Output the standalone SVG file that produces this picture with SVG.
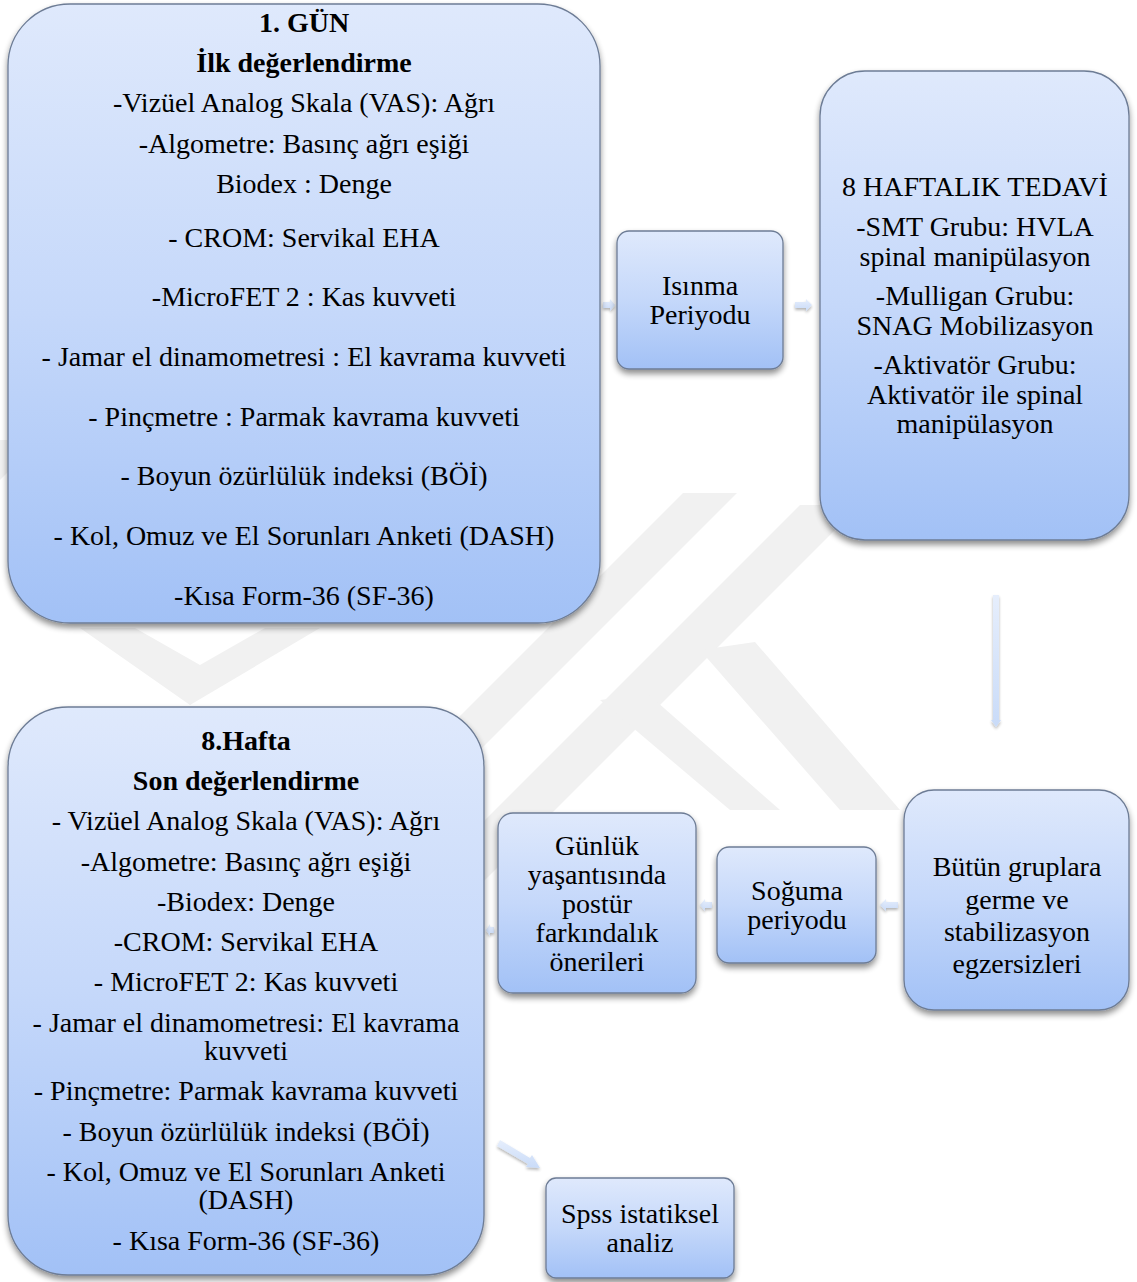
<svg xmlns="http://www.w3.org/2000/svg" width="1137" height="1282" viewBox="0 0 1137 1282">
<defs>
<linearGradient id="gBox" x1="0" y1="0" x2="0" y2="1">
<stop offset="0" stop-color="#dfe9fc"/>
<stop offset="0.5" stop-color="#c5d8fa"/>
<stop offset="1" stop-color="#a2c1f6"/>
</linearGradient>
<linearGradient id="gArr" x1="0" y1="0" x2="0" y2="1">
<stop offset="0" stop-color="#e6eefc"/>
<stop offset="1" stop-color="#c9dbf8"/>
</linearGradient>
<filter id="sh" x="-10%" y="-10%" width="120%" height="125%">
<feGaussianBlur in="SourceAlpha" stdDeviation="3"/>
<feOffset dx="0" dy="4" result="b"/>
<feComponentTransfer><feFuncA type="linear" slope="0.45"/></feComponentTransfer>
<feMerge><feMergeNode/><feMergeNode in="SourceGraphic"/></feMerge>
</filter>
<filter id="sha" x="-50%" y="-50%" width="200%" height="200%">
<feGaussianBlur in="SourceAlpha" stdDeviation="1.5"/>
<feOffset dx="0" dy="2" result="b"/>
<feComponentTransfer><feFuncA type="linear" slope="0.3"/></feComponentTransfer>
<feMerge><feMergeNode/><feMergeNode in="SourceGraphic"/></feMerge>
</filter>
</defs>
<style>
.box{fill:url(#gBox);stroke:#6d7c95;stroke-width:1.3;filter:url(#sh)}
.t{font-family:"Liberation Serif","Times New Roman",serif;font-size:28px;fill:#000;text-anchor:middle}
.b{font-weight:bold}
.arr{fill:url(#gArr);filter:url(#sha)}
.wm{fill:#f1f1f1}
</style>
<rect width="1137" height="1282" fill="#fff"/>
<g id="watermark">
<polygon class="wm" points="683,493 737,493 330,900 276,900"/>
<polygon class="wm" points="800,505 860,505 470,895 410,895"/>
<polygon class="wm" points="700,650 755,642 900,810 840,810"/>
<polygon class="wm" points="600,700 648,694 780,810 730,810"/>
<polygon class="wm" points="80,628 135,628 200,665 265,628 320,628 190,705"/>
<polygon class="wm" points="0,440 40,440 0,480"/>
</g>
<g id="connectors">
<polygon class="arr" points="603,302 610,302 610,299 615,305 610,311 610,308 603,308"/>
<polygon class="arr" points="795,302 806,302 806,299 812,305 806,311 806,308 795,308"/>
<polygon class="arr" points="993,595 999,595 999,720 1001,720 996,727 991,720 993,720"/>
<polygon class="arr" points="898,902 886,902 886,899 880,905 886,911 886,908 898,908"/>
<polygon class="arr" points="712,902 705,902 705,899 700,905 705,911 705,908 712,908"/>
<polygon class="arr" points="494,927 490,927 490,924 486,930 490,936 490,933 494,933"/>
<polygon class="arr" points="500,1140 530,1158 532,1155 540,1168 526,1167 528,1164 497,1146"/>
</g>
<g id="n1">
<rect class="box" x="8" y="4" width="592" height="619" rx="62"/>
<text class="t b" x="304" y="32">1. GÜN</text>
<text class="t b" x="304" y="72">İlk değerlendirme</text>
<text class="t" x="304" y="112">-Vizüel Analog Skala (VAS): Ağrı</text>
<text class="t" x="304" y="153">-Algometre: Basınç ağrı eşiği</text>
<text class="t" x="304" y="193">Biodex : Denge</text>
<text class="t" x="304" y="247">- CROM: Servikal EHA</text>
<text class="t" x="304" y="306">-MicroFET 2 : Kas kuvveti</text>
<text class="t" x="304" y="366">- Jamar el dinamometresi : El kavrama kuvveti</text>
<text class="t" x="304" y="426">- Pinçmetre : Parmak kavrama kuvveti</text>
<text class="t" x="304" y="485">- Boyun özürlülük indeksi (BÖİ)</text>
<text class="t" x="304" y="545">- Kol, Omuz ve El Sorunları Anketi (DASH)</text>
<text class="t" x="304" y="605">-Kısa Form-36 (SF-36)</text>
</g>
<g id="n2">
<rect class="box" x="617" y="231" width="166" height="138" rx="12"/>
<text class="t" x="700" y="295">Isınma</text>
<text class="t" x="700" y="324">Periyodu</text>
</g>
<g id="n3">
<rect class="box" x="820" y="71" width="309" height="469" rx="45"/>
<text class="t" x="975" y="196">8 HAFTALIK TEDAVİ</text>
<text class="t" x="975" y="236">-SMT Grubu: HVLA</text>
<text class="t" x="975" y="266">spinal manipülasyon</text>
<text class="t" x="975" y="305">-Mulligan Grubu:</text>
<text class="t" x="975" y="335">SNAG Mobilizasyon</text>
<text class="t" x="975" y="374">-Aktivatör Grubu:</text>
<text class="t" x="975" y="404">Aktivatör  ile spinal</text>
<text class="t" x="975" y="433">manipülasyon</text>
</g>
<g id="n4">
<rect class="box" x="904" y="790" width="225" height="220" rx="30"/>
<text class="t" x="1017" y="876">Bütün gruplara</text>
<text class="t" x="1017" y="909">germe ve</text>
<text class="t" x="1017" y="941">stabilizasyon</text>
<text class="t" x="1017" y="973">egzersizleri</text>
</g>
<g id="n5">
<rect class="box" x="717" y="847" width="159" height="116" rx="12"/>
<text class="t" x="797" y="900">Soğuma</text>
<text class="t" x="797" y="929">periyodu</text>
</g>
<g id="n6">
<rect class="box" x="498" y="813" width="198" height="180" rx="15"/>
<text class="t" x="597" y="855">Günlük</text>
<text class="t" x="597" y="884">yaşantısında</text>
<text class="t" x="597" y="913">postür</text>
<text class="t" x="597" y="942">farkındalık</text>
<text class="t" x="597" y="971">önerileri</text>
</g>
<g id="n7">
<rect class="box" x="8" y="707" width="476" height="568" rx="60"/>
<text class="t b" x="246" y="750">8.Hafta</text>
<text class="t b" x="246" y="790">Son değerlendirme</text>
<text class="t" x="246" y="830">- Vizüel Analog Skala (VAS): Ağrı</text>
<text class="t" x="246" y="871">-Algometre: Basınç ağrı eşiği</text>
<text class="t" x="246" y="911">-Biodex: Denge</text>
<text class="t" x="246" y="951">-CROM: Servikal EHA</text>
<text class="t" x="246" y="991">- MicroFET 2: Kas kuvveti</text>
<text class="t" x="246" y="1032">- Jamar el dinamometresi: El kavrama</text>
<text class="t" x="246" y="1060">kuvveti</text>
<text class="t" x="246" y="1100">- Pinçmetre: Parmak kavrama kuvveti</text>
<text class="t" x="246" y="1141">- Boyun özürlülük indeksi (BÖİ)</text>
<text class="t" x="246" y="1181">- Kol, Omuz ve El Sorunları Anketi</text>
<text class="t" x="246" y="1209">(DASH)</text>
<text class="t" x="246" y="1250">- Kısa Form-36 (SF-36)</text>
</g>
<g id="n8">
<rect class="box" x="546" y="1178" width="188" height="100" rx="10"/>
<text class="t" x="640" y="1223">Spss istatiksel</text>
<text class="t" x="640" y="1252">analiz</text>
</g>
</svg>
